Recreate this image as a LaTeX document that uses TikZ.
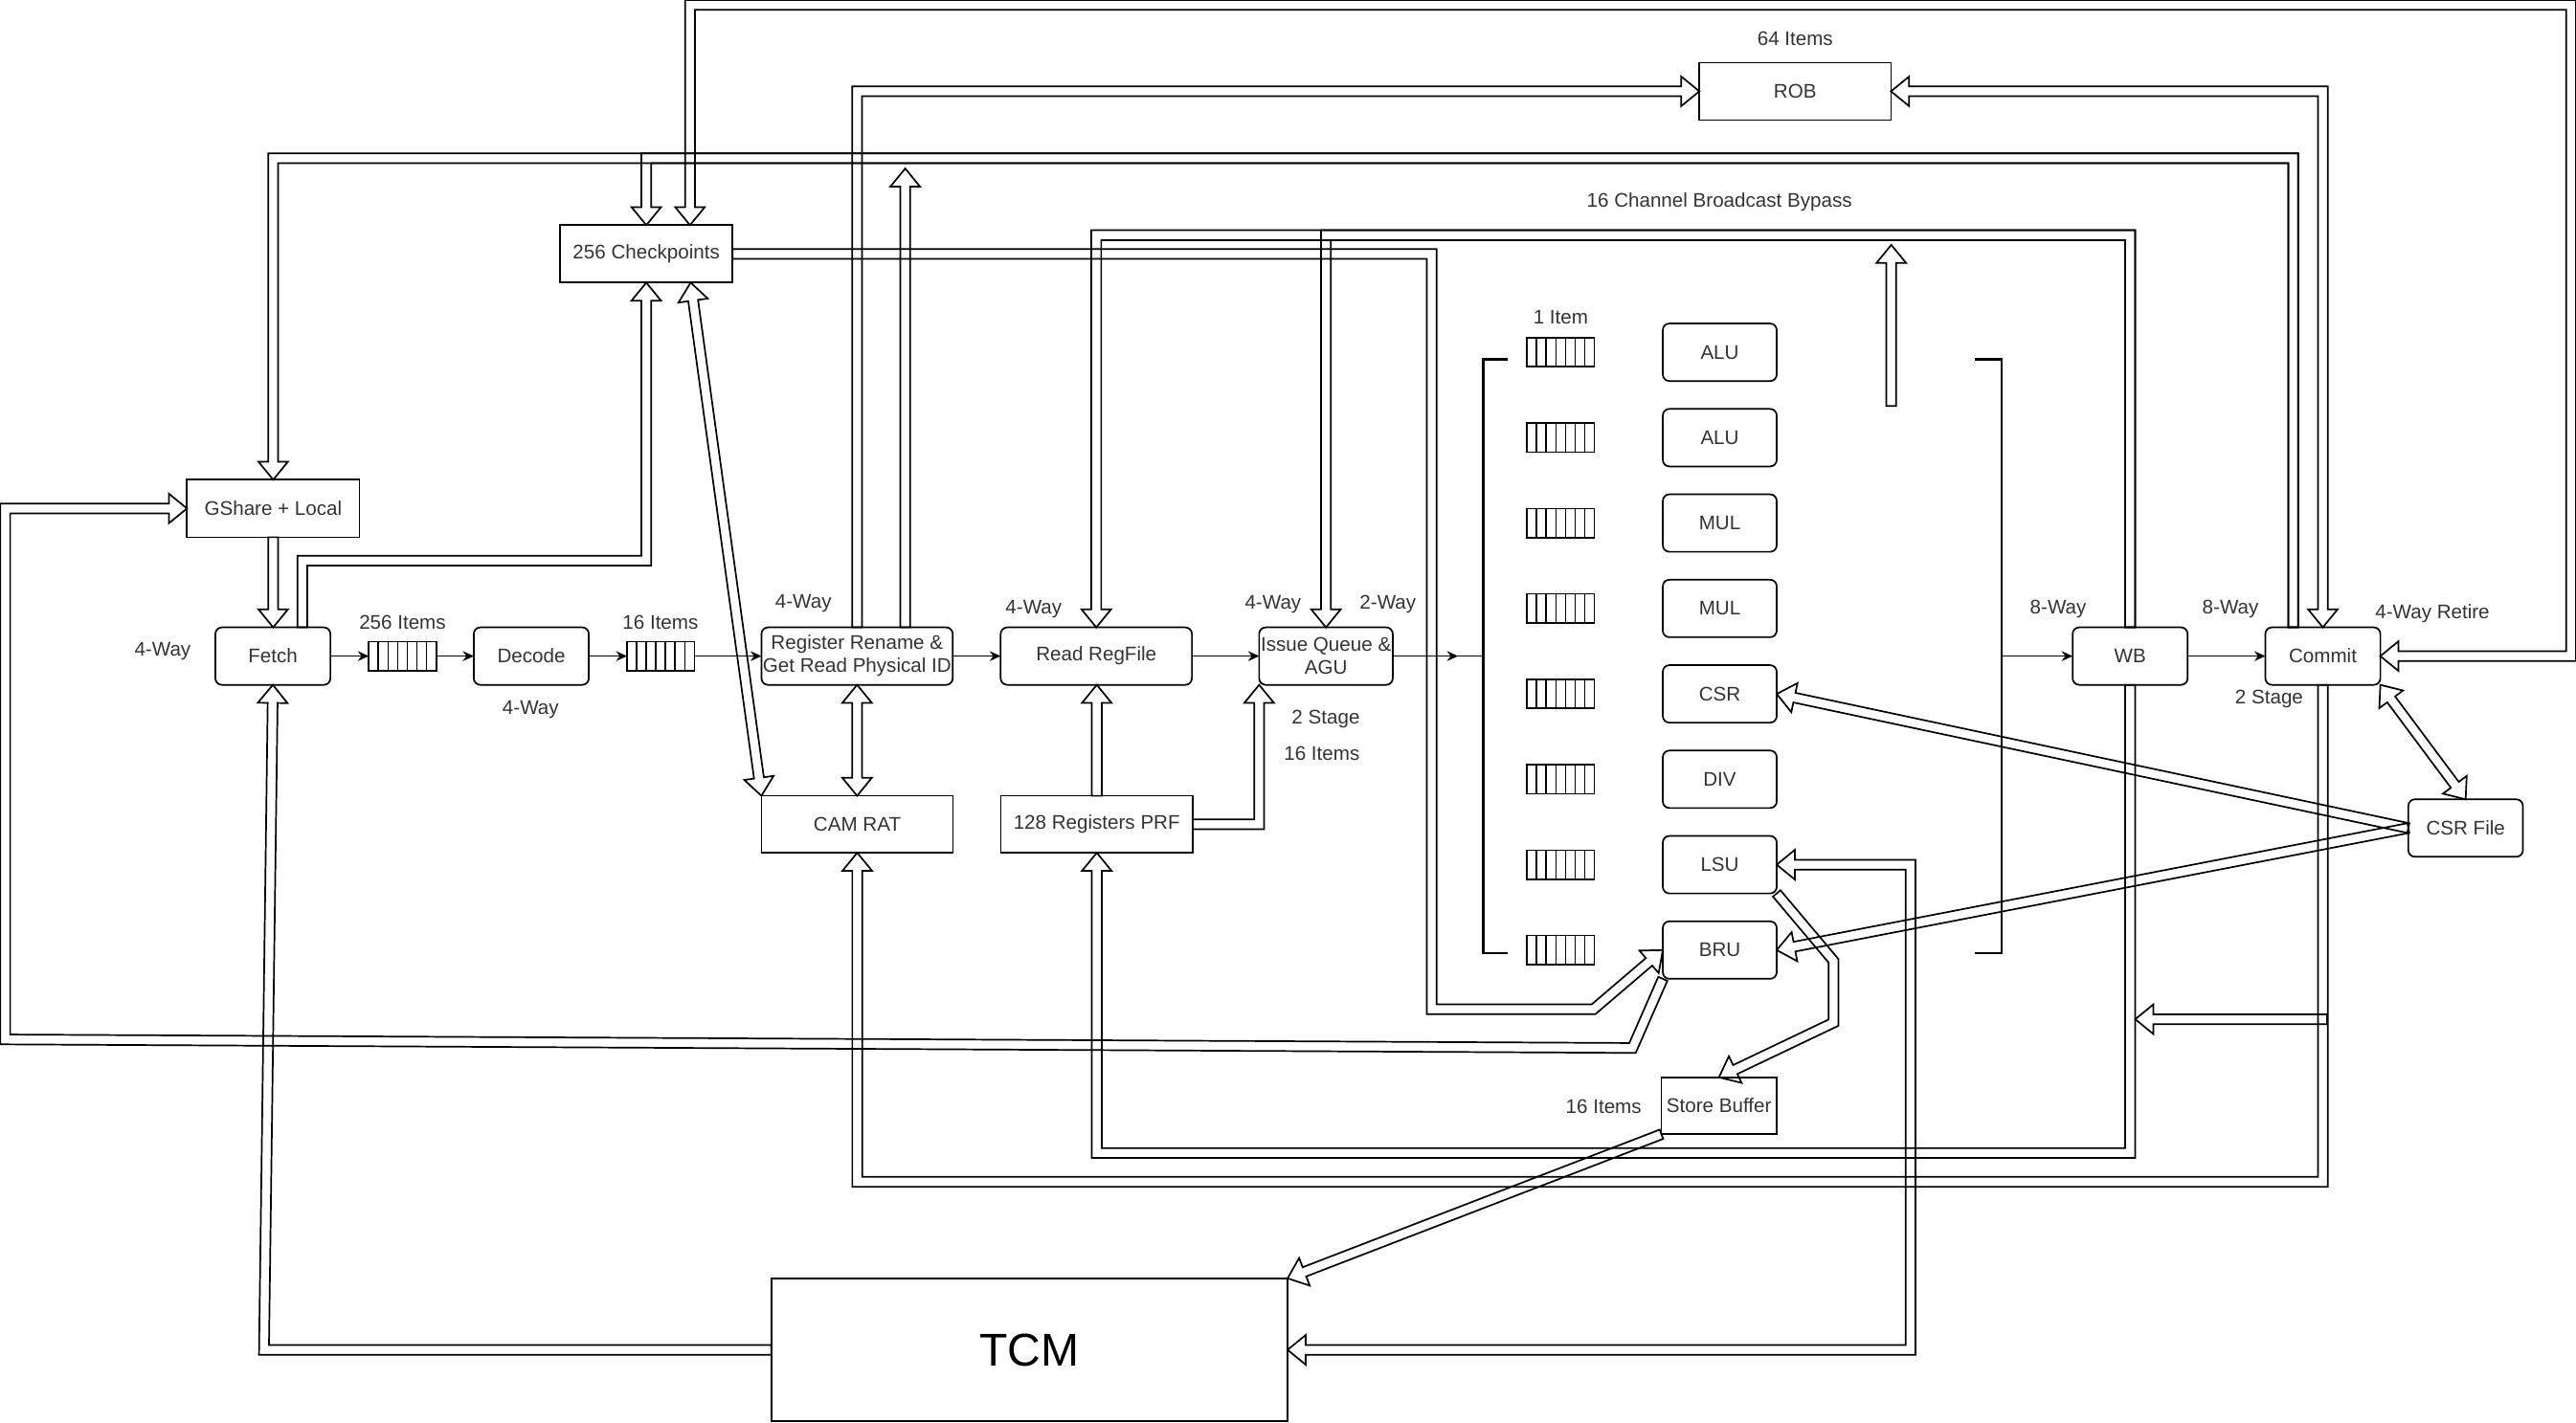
\documentclass[tikz,border=0pt]{standalone}
\usepackage{fontspec}
\setmainfont{Liberation Sans}
\usetikzlibrary{arrows.meta,calc}
\definecolor{txtgray}{HTML}{333333}

% hollow wide arrows: outline polygon built from the way points
\newcount\fxn
\newdimen\fxpx
\newdimen\fxpy
\def\fxd{2.25}% half shaft width (pt)
\def\fxhl{8.25}% head length (pt)
\def\fxhw{6.75}% half head width (pt)
\def\fxend{\fxend}
\def\fxget#1#2{\csname fx#1#2\endcsname}
\def\fxadd#1{\def\fxtemp{#1}\ifx\fxtemp\fxend\else\fxpoint{#1}\expandafter\fxadd\fi}
\def\fxpoint#1{%
  \path (#1) coordinate (fxtmp);%
  \pgfextractx{\fxpx}{\pgfpointanchor{fxtmp}{center}}%
  \pgfextracty{\fxpy}{\pgfpointanchor{fxtmp}{center}}%
  \pgfmathsetmacro\fxtx{\fxpx}%
  \pgfmathsetmacro\fxty{\fxpy}%
  \expandafter\xdef\csname fxX\number\fxn\endcsname{\fxtx}%
  \expandafter\xdef\csname fxY\number\fxn\endcsname{\fxty}%
  \global\advance\fxn by 1\relax}
% #1: 1 = head at the end, 2 = heads at both ends; #2: way points {..}{..}
\newcommand{\flexarrow}[2]{%
  \global\fxn=0\relax
  \fxadd#2{\fxend}%
  \pgfmathtruncatemacro\fxlast{\fxn-1}%
  \pgfmathtruncatemacro\fxsegs{\fxn-2}%
  \ifnum#1=2 \def\fxhs{\fxhl}\else\def\fxhs{0}\fi
  \foreach \j in {0,...,\fxsegs}{%
    \pgfmathtruncatemacro\fxk{\j+1}%
    \edef\fxxa{\fxget{X}{\j}}\edef\fxya{\fxget{Y}{\j}}%
    \edef\fxxb{\fxget{X}{\fxk}}\edef\fxyb{\fxget{Y}{\fxk}}%
    \pgfmathsetmacro\fxlen{veclen((\fxxb)-(\fxxa),(\fxyb)-(\fxya))}%
    \pgfmathsetmacro\fxux{((\fxxb)-(\fxxa))/\fxlen}%
    \pgfmathsetmacro\fxuy{((\fxyb)-(\fxya))/\fxlen}%
    \expandafter\xdef\csname fxUX\j\endcsname{\fxux}%
    \expandafter\xdef\csname fxUY\j\endcsname{\fxuy}%
  }%
  \foreach \j in {0,...,\fxlast}{%
    \edef\fxpxv{\fxget{X}{\j}}\edef\fxpyv{\fxget{Y}{\j}}%
    \ifnum\j=0
      \edef\fxa{\fxget{UX}{0}}\edef\fxb{\fxget{UY}{0}}%
      \pgfmathsetmacro\fxqx{(\fxpxv)+\fxhs*(\fxa)}%
      \pgfmathsetmacro\fxqy{(\fxpyv)+\fxhs*(\fxb)}%
      \pgfmathsetmacro\fxnx{-\fxd*(\fxb)}%
      \pgfmathsetmacro\fxny{\fxd*(\fxa)}%
      \xdef\fxQsx{\fxqx}\xdef\fxQsy{\fxqy}%
      \xdef\fxSux{\fxa}\xdef\fxSuy{\fxb}%
    \else\ifnum\j=\fxlast
      \edef\fxa{\fxget{UX}{\fxsegs}}\edef\fxb{\fxget{UY}{\fxsegs}}%
      \pgfmathsetmacro\fxqx{(\fxpxv)-\fxhl*(\fxa)}%
      \pgfmathsetmacro\fxqy{(\fxpyv)-\fxhl*(\fxb)}%
      \pgfmathsetmacro\fxnx{-\fxd*(\fxb)}%
      \pgfmathsetmacro\fxny{\fxd*(\fxa)}%
      \xdef\fxQex{\fxqx}\xdef\fxQey{\fxqy}%
      \xdef\fxEux{\fxa}\xdef\fxEuy{\fxb}%
    \else
      \pgfmathtruncatemacro\fxi{\j-1}%
      \edef\fxa{\fxget{UX}{\fxi}}\edef\fxb{\fxget{UY}{\fxi}}%
      \edef\fxc{\fxget{UX}{\j}}\edef\fxe{\fxget{UY}{\j}}%
      \pgfmathsetmacro\fxm{\fxd/(1+(\fxa)*(\fxc)+(\fxb)*(\fxe))}%
      \pgfmathsetmacro\fxnx{-\fxm*((\fxb)+(\fxe))}%
      \pgfmathsetmacro\fxny{\fxm*((\fxa)+(\fxc))}%
      \let\fxqx\fxpxv \let\fxqy\fxpyv
    \fi\fi
    \pgfmathsetmacro\fxlx{(\fxqx)+(\fxnx)}\pgfmathsetmacro\fxly{(\fxqy)+(\fxny)}%
    \pgfmathsetmacro\fxrx{(\fxqx)-(\fxnx)}\pgfmathsetmacro\fxry{(\fxqy)-(\fxny)}%
    \expandafter\xdef\csname fxLX\j\endcsname{\fxlx}%
    \expandafter\xdef\csname fxLY\j\endcsname{\fxly}%
    \expandafter\xdef\csname fxRX\j\endcsname{\fxrx}%
    \expandafter\xdef\csname fxRY\j\endcsname{\fxry}%
  }%
  \xdef\fxpath{(\fxget{LX}{0}pt,\fxget{LY}{0}pt)}%
  \foreach \j in {1,...,\fxlast}{\xdef\fxpath{\fxpath -- (\fxget{LX}{\j}pt,\fxget{LY}{\j}pt)}}%
  \pgfmathsetmacro\fxhax{(\fxQex)-\fxhw*(\fxEuy)}\pgfmathsetmacro\fxhay{(\fxQey)+\fxhw*(\fxEux)}%
  \pgfmathsetmacro\fxhbx{(\fxQex)+\fxhw*(\fxEuy)}\pgfmathsetmacro\fxhby{(\fxQey)-\fxhw*(\fxEux)}%
  \xdef\fxpath{\fxpath -- (\fxhax pt,\fxhay pt) -- (\fxget{X}{\fxlast}pt,\fxget{Y}{\fxlast}pt) -- (\fxhbx pt,\fxhby pt)}%
  \foreach \j in {0,...,\fxlast}{\pgfmathtruncatemacro\fxr{\fxlast-\j}%
    \xdef\fxpath{\fxpath -- (\fxget{RX}{\fxr}pt,\fxget{RY}{\fxr}pt)}}%
  \ifnum#1=2
    \pgfmathsetmacro\fxhax{(\fxQsx)+\fxhw*(\fxSuy)}\pgfmathsetmacro\fxhay{(\fxQsy)-\fxhw*(\fxSux)}%
    \pgfmathsetmacro\fxhbx{(\fxQsx)-\fxhw*(\fxSuy)}\pgfmathsetmacro\fxhby{(\fxQsy)+\fxhw*(\fxSux)}%
    \xdef\fxpath{\fxpath -- (\fxhax pt,\fxhay pt) -- (\fxget{X}{0}pt,\fxget{Y}{0}pt) -- (\fxhbx pt,\fxhby pt)}%
  \fi
  \edef\fxcmd{\noexpand\draw[flexline] \fxpath -- cycle;}\fxcmd}

\begin{document}
\begin{tikzpicture}[
  x=0.75pt, y=-0.75pt,
  font=\fontsize{9}{10.5}\selectfont, text=txtgray,
  blk/.style={draw,fill=white,line width=0.75pt,inner sep=0pt,outer sep=0pt,minimum height=26.25pt,align=center},
  stage/.style={blk,rounded corners=3pt},
  fifo/.style={draw,fill=white,line width=0.75pt,inner sep=0pt,outer sep=0pt,minimum width=30.75pt,minimum height=13.3pt,
    path picture={\foreach \k in {1,...,6}{\draw[line width=0.75pt]
      ($(path picture bounding box.north west)!\k/7!(path picture bounding box.north east)$) --
      ($(path picture bounding box.south west)!\k/7!(path picture bounding box.south east)$);}}},
  lbl/.style={inner sep=0pt},
  wire/.style={line width=0.75pt},
  thinarr/.style={wire,-{Stealth[length=5pt,width=4.5pt]}},
  bracket/.style={line width=1.1pt},
  flexline/.style={line width=0.75pt,line join=miter},
]
  \useasboundingbox (0,0) rectangle (1568,866);

  % pipeline
  \node[stage,minimum width=52.5pt] (fetch) at (166.1,399.5) {Fetch};
  \node[fifo] (q256) at (245,399.5) {};
  \node[stage,minimum width=52.5pt] (decode) at (323.4,399.5) {Decode};
  \node[fifo] (q16) at (402.2,399.5) {};
  \node[stage,minimum width=87.3pt] (rename) at (521.7,399.5) {Register Rename \&\\Get Read Physical ID};
  \node[stage,minimum width=87.3pt] (rrf) at (667.3,399.5) {Read RegFile};
  \node[stage,minimum width=61pt] (iq) at (807.1,399.5) {Issue Queue \&\\AGU};
  \node[stage,minimum width=52.5pt] (wb) at (1296.6,399.5) {WB};
  \node[stage,minimum width=52.5pt] (commit) at (1413.9,399.5) {Commit};

  % side structures
  \node[blk,minimum width=78.75pt] (ckpt) at (393.4,154.6) {256 Checkpoints};
  \node[blk,minimum width=78.75pt] (gshare) at (166.3,309.6) {GShare + Local};
  \node[blk,minimum width=87.5pt,minimum height=26pt] (camrat) at (521.8,501.9) {CAM RAT};
  \node[blk,minimum width=87.5pt,minimum height=26pt] (prf) at (667.6,501.9) {128 Registers PRF};
  \node[blk,minimum width=87.5pt] (rob) at (1092.7,55.6) {ROB};
  \node[blk,minimum width=52.5pt,minimum height=26pt] (sbuf) at (1046.3,673.3) {Store Buffer};
  \node[stage,minimum width=52.3pt] (csrf) at (1500.8,504.2) {CSR File};
  \node[blk,minimum width=235.7pt,minimum height=65.3pt,font=\fontsize{21}{25}\selectfont,text=black] (tcm) at (626.6,821.9) {TCM};

  % execution units
  \node[stage,minimum width=52pt] (alu1) at (1046.8,214.5) {ALU};
  \node[stage,minimum width=52pt] (alu2) at (1046.8,266.5) {ALU};
  \node[stage,minimum width=52pt] (mul1) at (1046.8,318.5) {MUL};
  \node[stage,minimum width=52pt] (mul2) at (1046.8,370.5) {MUL};
  \node[stage,minimum width=52pt] (csr) at (1046.8,422.5) {CSR};
  \node[stage,minimum width=52pt] (div) at (1046.8,474.5) {DIV};
  \node[stage,minimum width=52pt] (lsu) at (1046.8,526.5) {LSU};
  \node[stage,minimum width=52pt] (bru) at (1046.8,578.5) {BRU};
  \node[fifo] (qalu1) at (950,214.5) {};
  \node[fifo] (qalu2) at (950,266.5) {};
  \node[fifo] (qmul1) at (950,318.5) {};
  \node[fifo] (qmul2) at (950,370.5) {};
  \node[fifo] (qcsr) at (950,422.5) {};
  \node[fifo] (qdiv) at (950,474.5) {};
  \node[fifo] (qlsu) at (950,526.5) {};
  \node[fifo] (qbru) at (950,578.5) {};

  % labels
  \node[lbl] (it64) at (1092.7,23.7) {64 Items};
  \node[lbl] (bypass) at (1046.6,123.2) {16 Channel Broadcast Bypass};
  \node[lbl] (it1) at (950,192.9) {1 Item};
  \node[lbl] (it256) at (245,379) {256 Items};
  \node[lbl] (it16) at (402,379) {16 Items};
  \node[lbl] (w4fetch) at (99,396.5) {4-Way};
  \node[lbl] (w4dec) at (323,432) {4-Way};
  \node[lbl] (w4ren) at (489,367.5) {4-Way};
  \node[lbl] (w4rrf) at (629.2,370.7) {4-Way};
  \node[lbl] (w4iq) at (774.9,367.9) {4-Way};
  \node[lbl] (w2iq) at (844.8,367.9) {2-Way};
  \node[lbl] (st2iq) at (807,437.7) {2 Stage};
  \node[lbl] (it16iq) at (804.6,458.8) {16 Items};
  \node[lbl] (w8wb) at (1252.8,370.7) {8-Way};
  \node[lbl] (w8cm) at (1357.7,370.7) {8-Way};
  \node[lbl] (retire) at (1480.6,373.5) {4-Way Retire};
  \node[lbl] (st2cm) at (1381.2,425.8) {2 Stage};
  \node[lbl] (it16sb) at (976.1,673.7) {16 Items};

  % free ends
  \coordinate (disp) at (887.5,399.5);
  \coordinate (lbrk) at (903,399.5);
  \coordinate (rbrk) at (1218.4,399.5);
  \coordinate (renup) at (551,102.6);
  \coordinate (bypup) at (1151.2,149.1);
  \coordinate (bypfoot) at (1151.2,247.2);
  \coordinate (cmtap) at (1416.5,620.6);
  \coordinate (wbtap) at (1299.7,620.6);

  % thin datapath
  \draw[thinarr] (fetch.east) -- (q256.west);
  \draw[thinarr] (q256.east) -- (decode.west);
  \draw[thinarr] (decode.east) -- (q16.west);
  \draw[thinarr] (q16.east) -- (rename.west);
  \draw[thinarr] (rename.east) -- (rrf.west);
  \draw[thinarr] (rrf.east) -- (iq.west);
  \draw[thinarr] (iq.east) -- (disp);
  \draw[wire] (disp) -- (lbrk);
  \draw[bracket] (918,218.8) -| (lbrk) |- (918,580.3);
  \draw[bracket] (1202,218.8) -| (rbrk) |- (1202,580.3);
  \draw[thinarr] (rbrk) -- (wb.west);
  \draw[thinarr] (wb.east) -- (commit.west);

  % wide buses
  \flexarrow{2}{{commit.east}{1565,399.5}{1565,3}{420,3}{$(ckpt.north)+(26.6,0)$}}
  \flexarrow{1}{{$(commit.north)+(-18,0)$}{1395.9,96.4}{166.3,96.4}{gshare.north}}
  \flexarrow{1}{{$(commit.north)+(-18,0)$}{1395.9,96.4}{393.4,96.4}{ckpt.north}}
  \flexarrow{2}{{rob.east}{1413.9,55.6}{commit.north}}
  \flexarrow{1}{{rename.north}{521.7,55.6}{rob.west}}
  \flexarrow{1}{{$(rename.north)+(29.3,0)$}{renup}}
  \flexarrow{1}{{ckpt.east}{871.5,154.6}{871.5,614.5}{970,614.5}{bru.west}}
  \flexarrow{1}{{bru.south west}{993.7,638.1}{3.2,632.9}{3.2,309.6}{gshare.west}}
  \flexarrow{1}{{tcm.west}{160.7,821.9}{fetch.south}}
  \flexarrow{1}{{gshare.south}{gshare.south |- fetch.north}}
  \flexarrow{1}{{$(fetch.north)+(18,0)$}{184.1,341.4}{393.4,341.4}{ckpt.south}}
  \flexarrow{2}{{$(ckpt.south)+(27,0)$}{camrat.north west}}
  \flexarrow{2}{{rename.south}{rename.south |- camrat.north}}
  \flexarrow{1}{{commit.south}{1413.9,719.6}{521.8,719.6}{camrat.south}}
  \flexarrow{1}{{cmtap}{wbtap}}
  \flexarrow{1}{{wb.south}{1296.6,702.1}{667.6,702.1}{prf.south}}
  \flexarrow{1}{{wb.north}{1296.6,143.2}{667.3,143.2}{rrf.north}}
  \flexarrow{1}{{wb.north}{1296.6,143.2}{807.1,143.2}{iq.north}}
  \flexarrow{1}{{bypfoot}{bypup}}
  \flexarrow{1}{{prf.north}{prf.north |- rrf.south}}
  \flexarrow{1}{{prf.east}{prf.east -| iq.south west}{iq.south west}}
  \flexarrow{1}{{csrf.west}{csr.east}}
  \flexarrow{1}{{csrf.west}{bru.east}}
  \flexarrow{2}{{commit.south east}{csrf.north}}
  \flexarrow{1}{{lsu.south east}{1116,585}{1116,622.7}{sbuf.north}}
  \flexarrow{2}{{lsu.east}{1163,526.5}{1163,821.9}{tcm.east}}
  \flexarrow{1}{{sbuf.south west}{tcm.north east}}
\end{tikzpicture}
\end{document}
